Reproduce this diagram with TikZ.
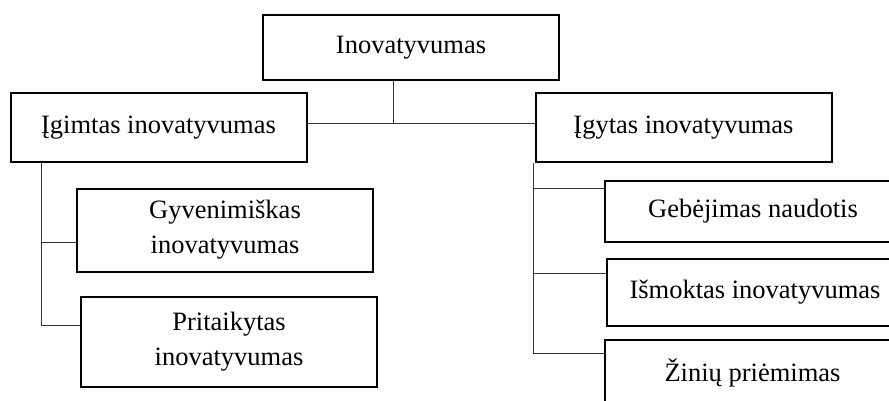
\documentclass[tikz,border=0pt]{standalone}
\usepackage{fontspec}
\setmainfont{Liberation Serif}

\begin{document}
\begin{tikzpicture}[x=1pt,y=1pt,
  box/.style={draw,line width=2pt,inner sep=0pt,align=center,
    minimum width=296pt,font=\fontsize{26.5}{35}\selectfont},
  conn/.style={draw=black!80,line width=1pt}]
  \useasboundingbox (0,0) rectangle (889,-401);
  \clip (0,0) rectangle (889,-401);
  % top level
  \node[box,minimum height=65pt] (inov) at (411,-48) {Inovatyvumas};
  \node[box,minimum height=69pt] (igim) at (158.5,-128) {Įgimtas inovatyvumas};
  \node[box,minimum height=69pt] (igyt) at (683.5,-128) {Įgytas inovatyvumas};
  % left branch
  \node[box,minimum height=83pt] (gyv) at (225,-230) {Gyvenimiškas\\inovatyvumas};
  \node[box,minimum height=90pt] (prit) at (229,-341.5) {Pritaikytas\\inovatyvumas};
  % right branch
  \node[box,minimum height=61pt] (geb) at (753,-211) {Gebėjimas naudotis};
  \node[box,minimum height=67pt] (ism) at (755,-292) {Išmoktas inovatyvumas};
  \node[box,minimum height=67pt] (zin) at (752.5,-373) {Žinių priėmimas};
  % junctions
  \coordinate (j) at (393,-124);
  \coordinate (lg) at (41,-242);
  \coordinate (lp) at (41,-325);
  \coordinate (rg) at (533,-188);
  \coordinate (ri) at (533,-273);
  \coordinate (rz) at (533,-353);
  % connectors
  \draw[conn] (inov.south -| j) -- (j);
  \draw[conn] (igim.east |- j) -- (igyt.west |- j);
  \draw[conn] (igim.south -| lg) -- (lp);
  \draw[conn] (lg) -- (gyv.west |- lg);
  \draw[conn] (lp) -- (prit.west |- lp);
  \draw[conn] (igyt.south -| rz) -- (rz);
  \draw[conn] (rg) -- (geb.west |- rg);
  \draw[conn] (ri) -- (ism.west |- ri);
  \draw[conn] (rz) -- (zin.west |- rz);
\end{tikzpicture}
\end{document}
